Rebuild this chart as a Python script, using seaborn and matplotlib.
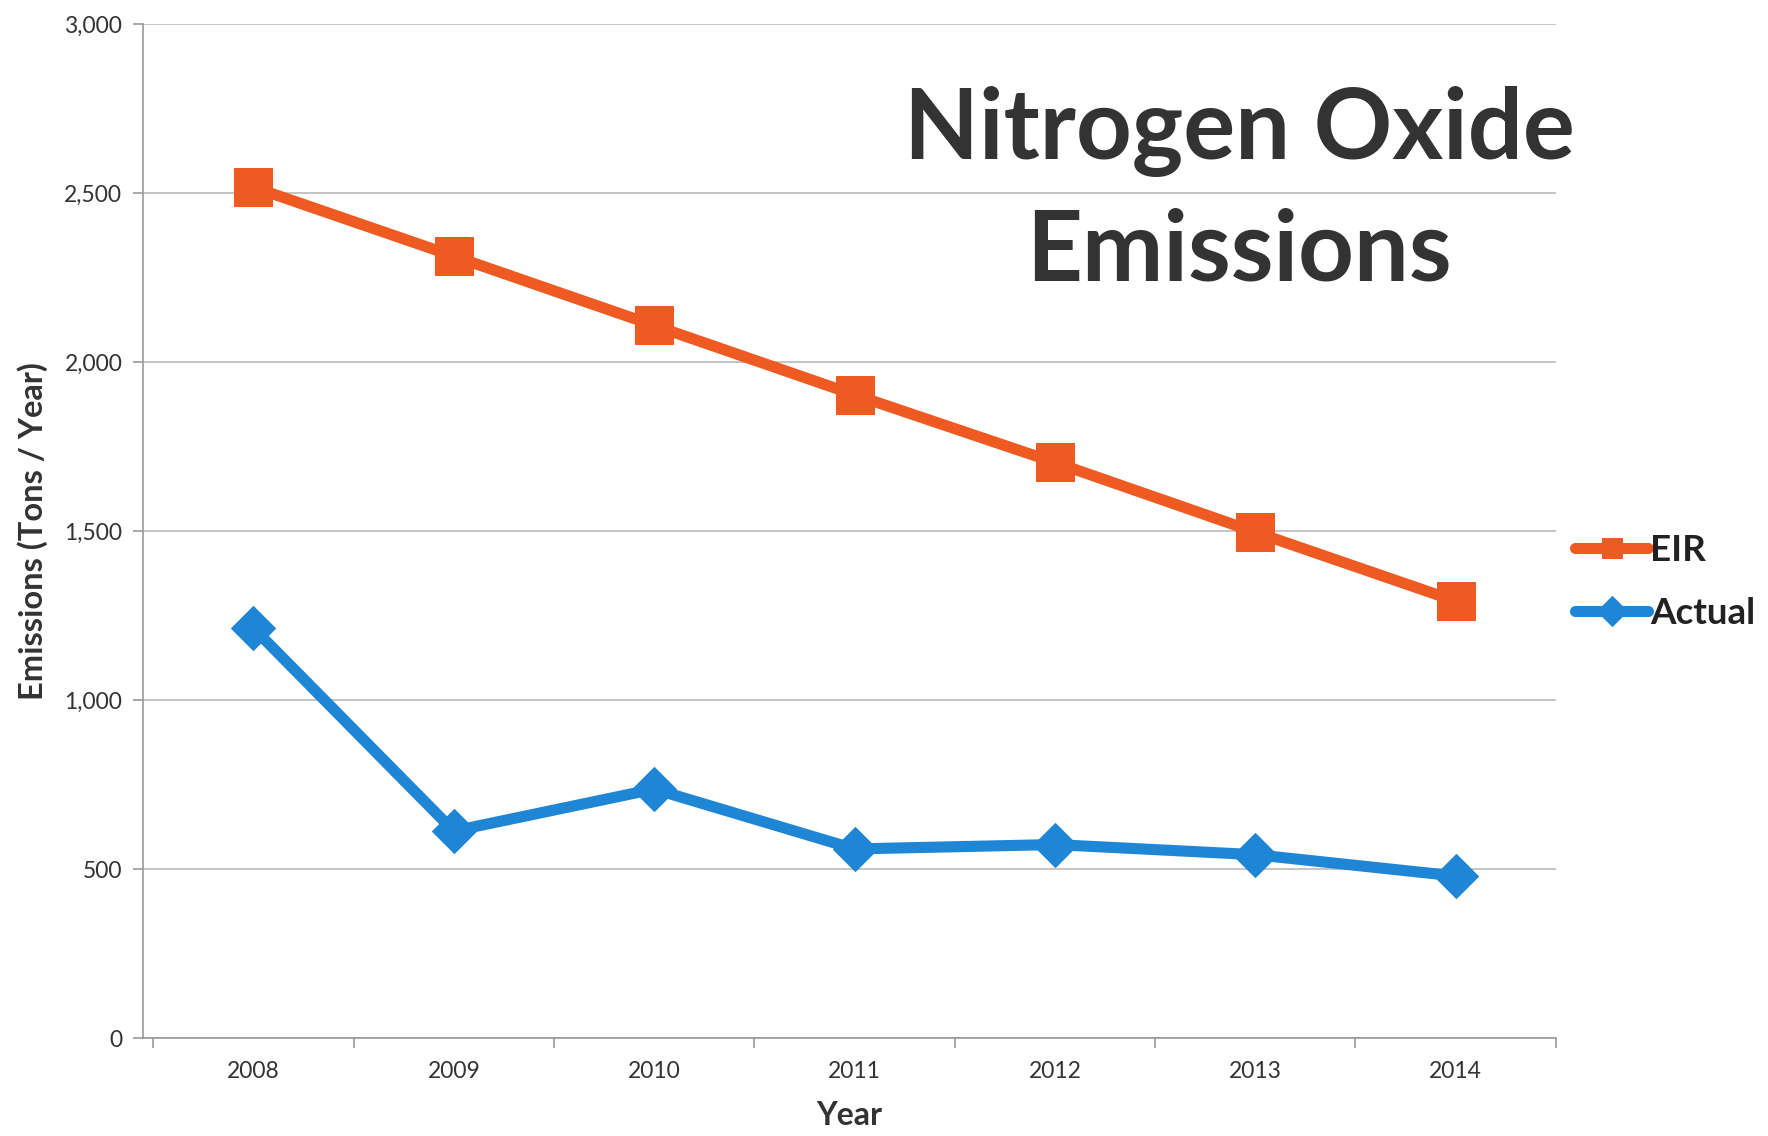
import numpy as np
import pandas as pd
import matplotlib
matplotlib.use('Agg')
import matplotlib.pyplot as plt
import seaborn as sns
from matplotlib.ticker import FuncFormatter, FixedLocator

years = [2008, 2009, 2010, 2011, 2012, 2013, 2014]
eir = [2517, 2313, 2108, 1903, 1703, 1497, 1293]
actual = [1213, 613, 737, 560, 573, 543, 480]
series_names = ['EIR', 'Actual']
series_colors = ['#EE5A22', '#1F86D6']
series_markers = ['s', 'D']

df = pd.DataFrame({
    'Year': years * 2,
    'Emissions': eir + actual,
    'Series': ['EIR'] * len(years) + ['Actual'] * len(years),
})

sns.set_style('white')
plt.rcParams['font.family'] = ['Lato', 'DejaVu Sans']

fig = plt.figure(figsize=(17.68, 11.36), dpi=100)
ax = fig.add_axes([0.081, 0.086, 0.799, 0.893])

sizes = {'EIR': 28, 'Actual': 22}
for name, col, mk in zip(series_names, series_colors, series_markers):
    sns.lineplot(data=df[df['Series'] == name], x='Year', y='Emissions',
                 color=col, marker=mk, markersize=sizes[name],
                 markeredgecolor=col, linewidth=8, ax=ax, label=name,
                 legend=False)

ax.set_ylim(0, 3000)
ax.set_xlim(2007.45, 2014.5)
ax.set_yticks(np.arange(0, 3001, 500))
ax.yaxis.set_major_formatter(FuncFormatter(lambda v, p: f'{int(v):,}'))
ax.set_xticks(years)
ax.set_xticklabels([str(y) for y in years])
ax.xaxis.set_minor_locator(FixedLocator(np.arange(2007.5, 2015, 1)))
ax.tick_params(axis='x', which='major', length=0, pad=16, labelsize=16.5, labelcolor='#333333')
ax.tick_params(axis='x', which='minor', length=7, color='#999999', width=1.2, bottom=True)
ax.tick_params(axis='y', length=7, color='#999999', width=1.2, left=True, labelsize=16.5,
               labelcolor='#333333', pad=8)

ax.grid(axis='y', color='#BBBBBB', linewidth=1.2)
ax.grid(axis='x', visible=False)
for s in ['top', 'right']:
    ax.spines[s].set_visible(False)
for s in ['left', 'bottom']:
    ax.spines[s].set_color('#999999')
    ax.spines[s].set_linewidth(1.2)

ax.set_xlabel('Year', fontsize=23, fontweight='bold', color='#333333', labelpad=14)
ax.set_ylabel('Emissions (Tons / Year)', fontsize=23.5, fontweight='bold', color='#333333', labelpad=12)

ax.text(0.776, 0.835, 'Nitrogen Oxide\nEmissions', transform=ax.transAxes,
        ha='center', va='center', fontsize=70, fontweight='bold', color='#333333',
        linespacing=1.42)

leg = ax.legend(loc='center left', bbox_to_anchor=(0.99, 0.45), frameon=False,
                handlelength=2.0, handletextpad=0.05, labelspacing=0.8,
                prop={'weight': 'bold', 'size': 26.5})
for h in leg.legend_handles:
    h.set_markersize(15)
for t in leg.get_texts():
    t.set_color('#222222')

fig.savefig('out.png', dpi=100, facecolor='white')
